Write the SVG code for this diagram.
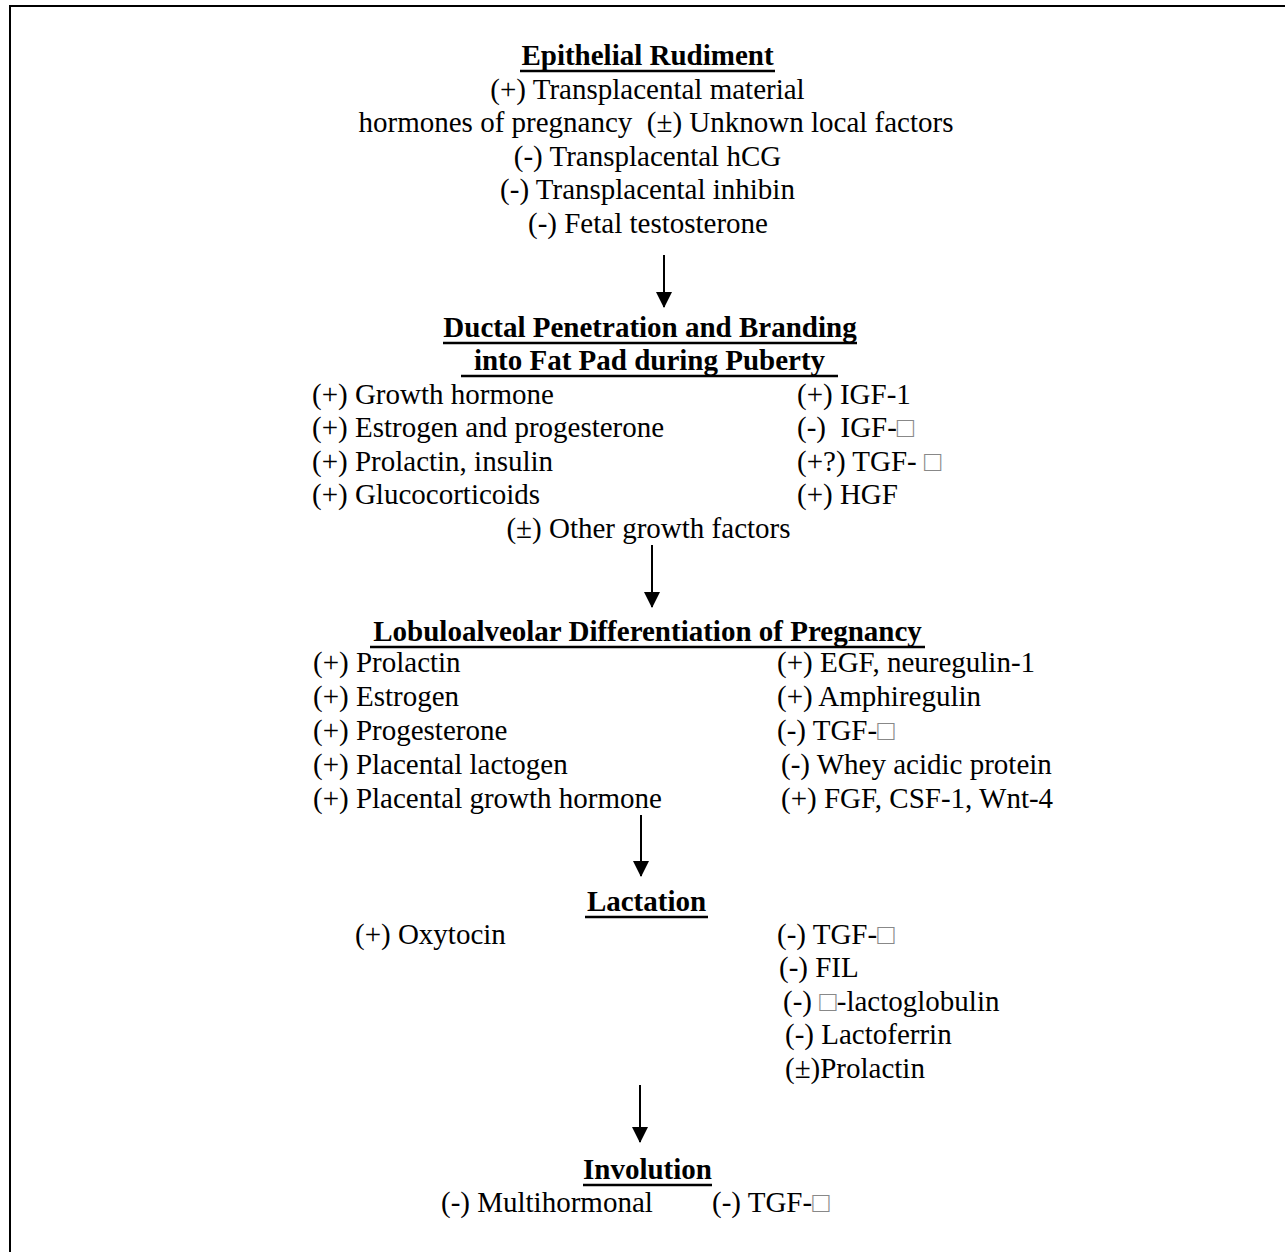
<svg xmlns="http://www.w3.org/2000/svg" width="1285" height="1252" viewBox="0 0 1285 1252">
<defs>
<style>
text{font-family:"Liberation Serif","Times New Roman",serif;font-size:29px;fill:#000}
.t{font-weight:bold;text-anchor:middle}
.c{text-anchor:middle}
.x{fill:#888}
.u{stroke:#000;stroke-width:2.5}
.b{stroke:#000;stroke-width:2;fill:none}
.ar{stroke:#000;stroke-width:2;fill:none;marker-end:url(#ah)}
</style>
<marker id="ah" markerWidth="16" markerHeight="16" refX="15" refY="8" orient="auto" markerUnits="userSpaceOnUse">
<path d="M0,0 L16,8 L0,16 Z" fill="#000"/>
</marker>
</defs>
<rect width="1285" height="1252" fill="#fff"/>
<g id="frame">
<line class="b" x1="10" y1="6" x2="10" y2="1252"/>
<line class="b" x1="9" y1="6" x2="1285" y2="6"/>
</g>
<g id="node-epithelial">
<text class="t" x="647.5" y="65">Epithelial Rudiment</text>
<line class="u" x1="520" y1="71" x2="775" y2="71"/>
<text class="c" x="647.5" y="99">(+) Transplacental material</text>
<text class="c" x="656" y="132" xml:space="preserve">hormones of pregnancy  (±) Unknown local factors</text>
<text class="c" x="647.5" y="166">(-) Transplacental hCG</text>
<text class="c" x="647.5" y="199">(-) Transplacental inhibin</text>
<text class="c" x="648" y="233">(-) Fetal testosterone</text>
</g>
<g id="node-ductal">
<text class="t" x="650" y="337">Ductal Penetration and Branding</text>
<line class="u" x1="443" y1="343" x2="857" y2="343"/>
<text class="t" x="649.5" y="370">into Fat Pad during Puberty</text>
<line class="u" x1="461" y1="376" x2="838" y2="376"/>
<text x="312" y="404">(+) Growth hormone</text>
<text x="312" y="437">(+) Estrogen and progesterone</text>
<text x="312" y="471">(+) Prolactin, insulin</text>
<text x="312" y="504">(+) Glucocorticoids</text>
<text x="797" y="404">(+) IGF-1</text>
<text x="797" y="437" xml:space="preserve">(-)  IGF-<tspan class="x">□</tspan></text>
<text x="797" y="471">(+?) TGF- <tspan class="x">□</tspan></text>
<text x="797" y="504">(+) HGF</text>
<text class="c" x="648.5" y="538">(±) Other growth factors</text>
</g>
<g id="node-lobuloalveolar">
<text class="t" x="647.5" y="641">Lobuloalveolar Differentiation of Pregnancy</text>
<line class="u" x1="370" y1="647" x2="925" y2="647"/>
<text x="313" y="672">(+) Prolactin</text>
<text x="313" y="706">(+) Estrogen</text>
<text x="313" y="740">(+) Progesterone</text>
<text x="313" y="774">(+) Placental lactogen</text>
<text x="313" y="808">(+) Placental growth hormone</text>
<text x="777" y="672">(+) EGF, neuregulin-1</text>
<text x="777" y="706">(+) Amphiregulin</text>
<text x="777" y="740">(-) TGF-<tspan class="x">□</tspan></text>
<text x="781" y="774">(-) Whey acidic protein</text>
<text x="781" y="808">(+) FGF, CSF-1, Wnt-4</text>
</g>
<g id="node-lactation">
<text class="t" x="646.5" y="911">Lactation</text>
<line class="u" x1="585" y1="917" x2="708" y2="917"/>
<text x="355" y="944">(+) Oxytocin</text>
<text x="777" y="944">(-) TGF-<tspan class="x">□</tspan></text>
<text x="779" y="977">(-) FIL</text>
<text x="783" y="1011">(-) <tspan class="x">□</tspan>-lactoglobulin</text>
<text x="785" y="1044">(-) Lactoferrin</text>
<text x="785" y="1078">(±)Prolactin</text>
</g>
<g id="node-involution">
<text class="t" x="647.5" y="1179">Involution</text>
<line class="u" x1="583" y1="1185" x2="712" y2="1185"/>
<text x="441" y="1212">(-) Multihormonal</text>
<text x="712" y="1212">(-) TGF-<tspan class="x">□</tspan></text>
</g>
<g id="connectors">
<line class="ar" x1="664" y1="255" x2="664" y2="307"/>
<line class="ar" x1="652" y1="545" x2="652" y2="607"/>
<line class="ar" x1="641" y1="815" x2="641" y2="876"/>
<line class="ar" x1="640" y1="1085" x2="640" y2="1142"/>
</g>
</svg>
